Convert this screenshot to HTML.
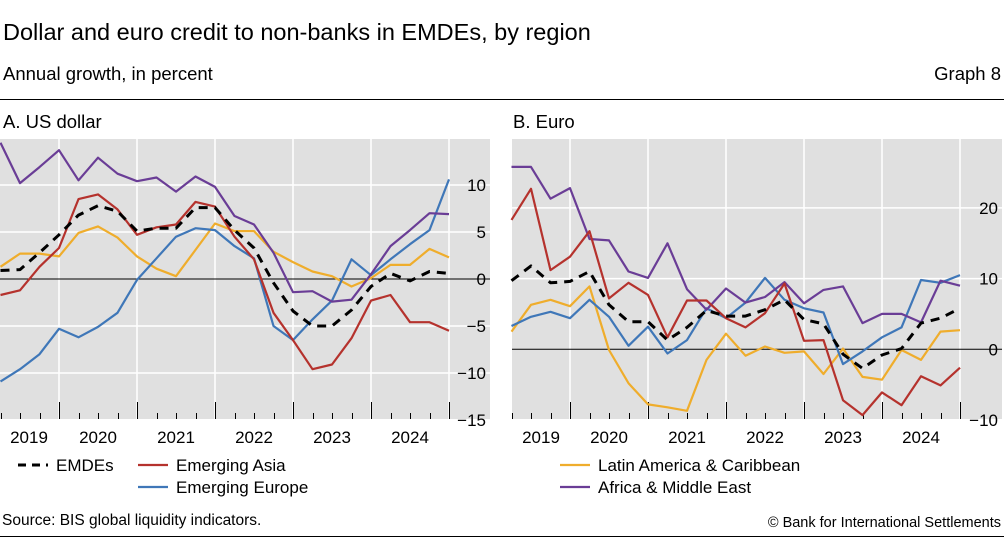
<!DOCTYPE html>
<html><head><meta charset="utf-8"><style>
body{margin:0;width:1004px;height:539px;background:#fff;font-family:"Liberation Sans",sans-serif;overflow:hidden;position:relative}
.t{position:absolute;white-space:nowrap;color:#000}
</style></head><body>
<div class="t" style="left:3px;top:19px;font-size:23.5px">Dollar and euro credit to non-banks in EMDEs, by region</div>
<div class="t" style="left:3px;top:63px;font-size:18.5px">Annual growth, in percent</div>
<div class="t" style="right:3px;top:63px;font-size:18.5px">Graph 8</div>
<div style="position:absolute;left:0;top:99px;width:1004px;height:1px;background:#000"></div>
<div class="t" style="left:3px;top:111px;font-size:18.5px">A. US dollar</div>
<div class="t" style="left:513px;top:111px;font-size:18.5px">B. Euro</div>
<svg id="svg" width="1004" height="539" style="position:absolute;left:0;top:0"></svg>
<div class="t" style="left:2px;top:512px;font-size:15.5px">Source: BIS global liquidity indicators.</div>
<div class="t" style="right:3px;top:515px;font-size:14.5px">© Bank for International Settlements</div>
<div style="position:absolute;left:0;top:536px;width:1004px;height:1px;background:#000"></div>
<script>
const years=["2019","2020","2021","2022","2023","2024"];
const ticksA=[10,5,0,-5,-10,-15];
const ticksB=[20,10,0,-10];
const aEMDE=[0.9,1.0,2.8,4.7,6.8,7.8,7.2,5.1,5.4,5.4,7.6,7.6,5.2,3.3,-0.4,-3.4,-5.0,-5.0,-3.3,-0.8,0.6,-0.2,0.8,0.6];
const aAsia=[-1.7,-1.2,1.3,3.3,8.5,9.0,7.4,4.7,5.5,5.8,8.2,7.7,4.5,2.1,-3.6,-6.5,-9.6,-9.1,-6.3,-2.3,-1.7,-4.6,-4.6,-5.5];
const aEurope=[-10.9,-9.6,-8.0,-5.3,-6.2,-5.1,-3.6,-0.1,2.2,4.5,5.4,5.2,3.5,2.2,-5.0,-6.5,-4.3,-2.3,2.1,0.4,2.1,3.7,5.2,10.6];
const aLatam=[1.3,2.7,2.7,2.4,4.9,5.6,4.4,2.4,1.1,0.3,3.1,5.9,5.1,5.1,2.9,1.8,0.8,0.3,-0.8,0.1,1.5,1.5,3.2,2.3];
const aAfrica=[14.5,10.2,11.9,13.7,10.5,12.9,11.2,10.4,10.8,9.3,10.9,9.8,6.7,5.8,2.8,-1.4,-1.3,-2.4,-2.2,0.5,3.5,5.2,7.0,6.9];
const bEMDE=[9.7,11.8,9.4,9.6,11.0,6.3,3.9,3.9,1.3,3.1,5.5,4.7,4.7,5.6,7.0,4.2,3.6,-0.7,-2.7,-0.8,0.1,3.7,4.4,5.8];
const bAsia=[18.3,22.7,11.2,13.1,16.7,7.2,9.4,7.7,1.7,6.9,6.9,4.4,3.1,5.1,9.3,1.2,1.3,-7.2,-9.3,-6.1,-7.9,-3.8,-5.1,-2.6];
const bEurope=[3.3,4.6,5.3,4.4,7.0,4.6,0.5,3.2,-0.6,1.3,5.8,4.4,6.6,10.1,7.0,5.8,5.2,-2.1,-0.3,1.7,3.1,9.8,9.4,10.5];
const bLatam=[2.5,6.3,7.0,6.1,8.9,-0.1,-4.8,-7.8,-8.2,-8.7,-1.5,2.2,-0.9,0.4,-0.5,-0.3,-3.5,0.1,-3.9,-4.3,-0.1,-1.5,2.5,2.7];
const bAfrica=[25.8,25.8,21.3,22.8,15.6,15.4,11.0,10.1,15.0,8.5,5.6,8.6,6.6,7.4,9.5,6.5,8.4,8.9,3.7,5.0,5.0,3.8,9.7,9.0];
const C={emde:"#000",asia:"#b5322d",europe:"#3f77b8",latam:"#efad2c",africa:"#6a3d96"};
const svg=document.getElementById('svg');const NS="http://www.w3.org/2000/svg";
function mk(t,a){const e=document.createElementNS(NS,t);for(const k in a)e.setAttribute(k,a[k]);svg.appendChild(e);return e;}
function panel(p){
  const top=139,bot=419;
  const y=v=>p.y0-v*p.k;
  const x=i=>p.xLast-(23-i)*19.5;
  const bg=mk('rect',{x:p.left,y:top,width:p.right-p.left,height:bot-top,fill:'#e0e0e0'});
  
  p.ticks.forEach(t=>{
    if(t!==0&&y(t)>top&&y(t)<bot){const g=mk('line',{x1:p.left,x2:p.right,y1:y(t),y2:y(t),stroke:'#fff','stroke-width':1.5});
    }
    const tx=mk('text',{x:p.right-4,y:y(t)+6,'text-anchor':'end','font-size':17,'font-family':'Liberation Sans'});
    tx.textContent=(t<0?'\u2212':'')+Math.abs(t);
    
  });
  for(let k=0;k<=5;k++){const xx=x(23)-(5-k)*78;
    const g=mk('line',{x1:xx,x2:xx,y1:top,y2:bot,stroke:'#fff','stroke-width':1.5});
    }
  for(let i=0;i<24;i++){const xx=Math.round(x(i))+0.5;const major=(i%4===3);
    const tk=mk('line',{x1:xx,x2:xx,y1:major?402:413,y2:bot,stroke:'#000','stroke-width':1});
    }
  years.forEach((yr,k)=>{let cx=x(3)-39+k*78;if(k===0)cx=Math.max(cx,p.left+29);
    const tx=mk('text',{x:cx,y:443,'text-anchor':'middle','font-size':17,'font-family':'Liberation Sans'});tx.textContent=yr;
    });
  const z=mk('line',{x1:p.left,x2:p.right,y1:y(0),y2:y(0),stroke:'#000','stroke-width':1});
  
  p.series.forEach(s=>{
    const d=s.v.map((v,i)=>(i?'L':'M')+x(i).toFixed(1)+','+y(v).toFixed(1)).join('');
    const a={d:d,fill:'none',stroke:C[s.c],'stroke-width':s.c==='emde'?3:2.2,'stroke-linejoin':'round'};
    if(s.c==='emde')a['stroke-dasharray']='9,7';
    const pe=mk('path',a);
  });
}
panel({id:'panel-a',left:0,right:490,xLast:449,y0:279,k:9.4,ticks:ticksA,series:[
  {c:'latam',v:aLatam},{c:'europe',v:aEurope},{c:'africa',v:aAfrica},{c:'asia',v:aAsia},{c:'emde',v:aEMDE}]});
panel({id:'panel-b',left:512,right:1002,xLast:960,y0:349.3,k:7.07,ticks:ticksB,series:[
  {c:'latam',v:bLatam},{c:'europe',v:bEurope},{c:'africa',v:bAfrica},{c:'asia',v:bAsia},{c:'emde',v:bEMDE}]});
function leg(x,y,c,label,name){
  const a={x1:x,x2:x+30,y1:y,y2:y,stroke:C[c],'stroke-width':c==='emde'?3:2.2};
  if(c==='emde')a['stroke-dasharray']='8,6';
  const l=mk('line',a);
  const t=mk('text',{x:x+38,y:y+6,'font-size':17,'font-family':'Liberation Sans'});t.textContent=label;
  
}
leg(18,465,'emde','EMDEs','legend-emdes');
leg(138,465,'asia','Emerging Asia','legend-emerging-asia');
leg(138,487,'europe','Emerging Europe','legend-emerging-europe');
leg(560,465,'latam','Latin America & Caribbean','legend-latin-america');
leg(560,487,'africa','Africa & Middle East','legend-africa-middle-east');
</script>
</body></html>
